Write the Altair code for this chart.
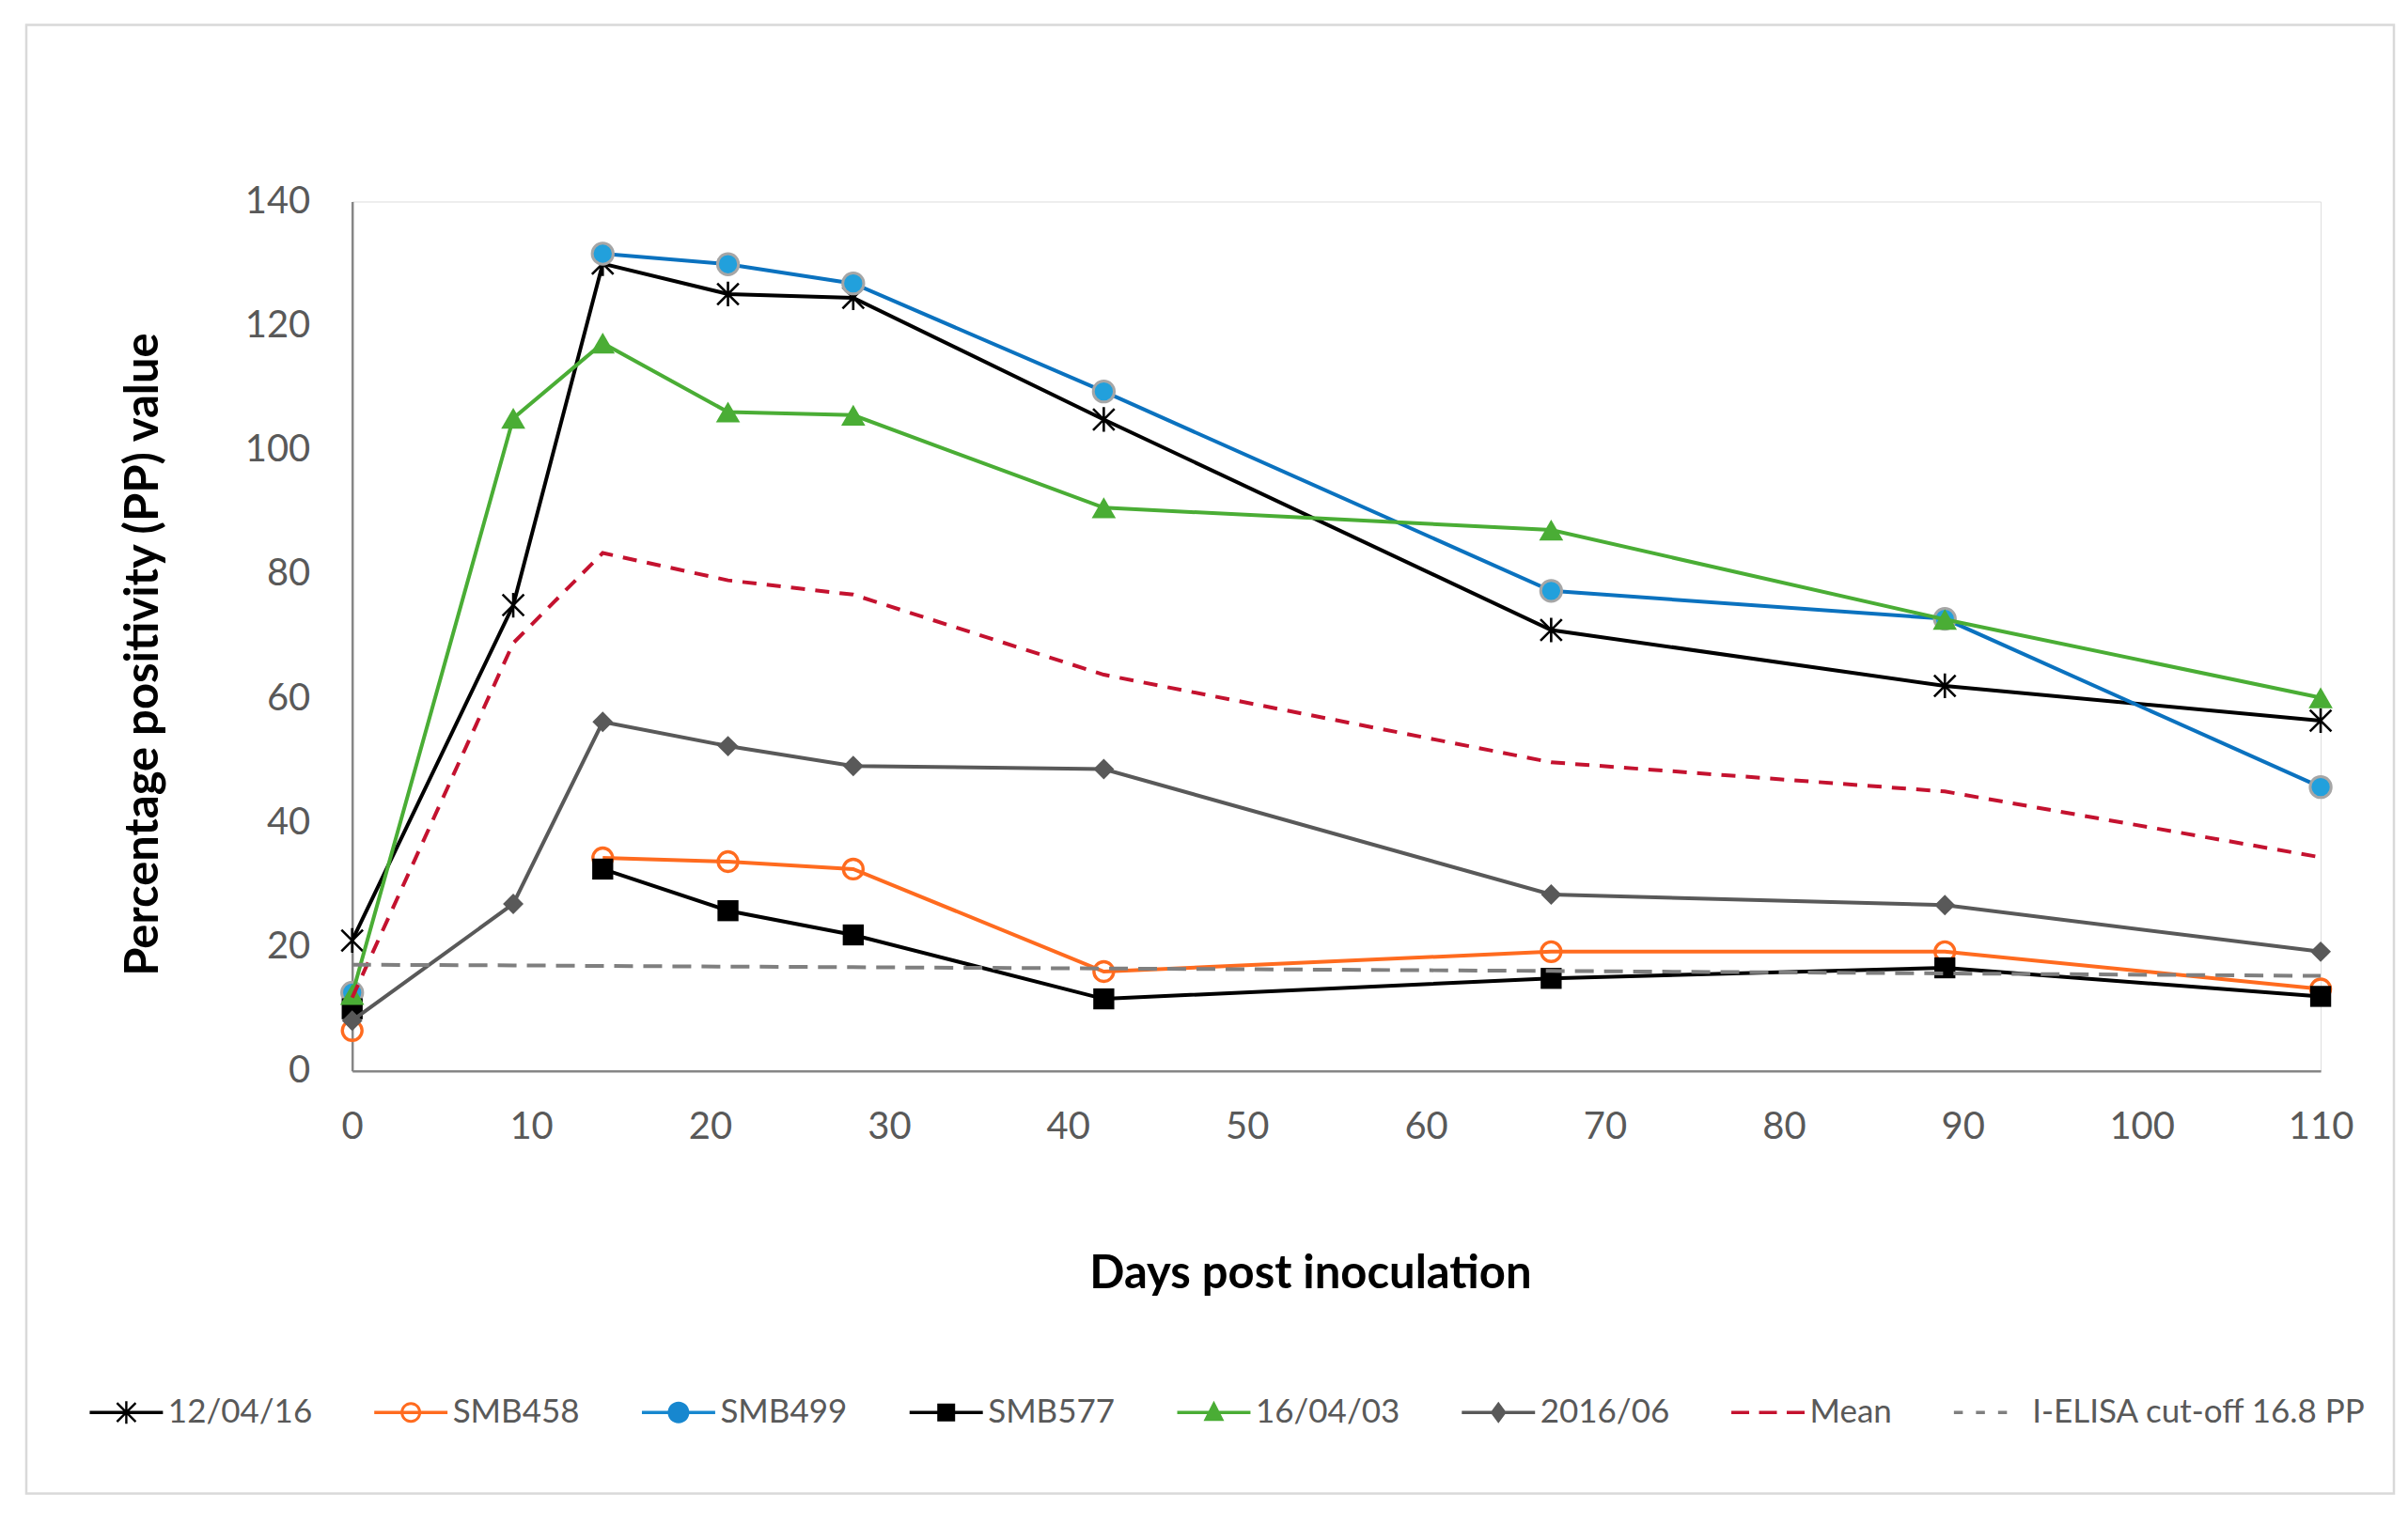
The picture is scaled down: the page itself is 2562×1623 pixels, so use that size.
import altair as alt
import pandas as pd

# ---------------- data ----------------
days = [0, 9, 14, 21, 28, 42, 67, 89, 110]

series_names = ["12/04/16", "SMB458", "SMB499", "SMB577", "16/04/03",
                "2016/06", "Mean", "I-ELISA cut-off 16.8 PP"]

v_120416 = [21.0, 75.0, 130.0, 125.1, 124.5, 104.9, 71.0, 62.0, 56.4]
v_smb458 = [6.5, None, 34.3, 33.7, 32.5, 16.0, 19.2, 19.2, 13.2]
v_smb499 = [12.6, None, 131.6, 129.9, 126.8, 109.4, 77.3, 72.8, 45.7]
v_smb577 = [10.0, None, 32.5, 25.8, 21.9, 11.6, 14.9, 16.6, 12.0]
v_160403 = [12.3, 105.1, 117.2, 106.1, 105.6, 90.7, 87.1, 72.7, 60.1]
v_201606 = [8.1, 26.9, 56.2, 52.3, 49.1, 48.6, 28.4, 26.7, 19.2]
v_mean = [11.8, 68.9, 83.4, 79.0, 76.7, 63.8, 49.7, 45.0, 34.4]
v_cutoff = [17.1, 17.0, 16.9, 16.8, 16.7, 16.5, 16.1, 15.7, 15.3]

x_ticks = [0, 10, 20, 30, 40, 50, 60, 70, 80, 90, 100, 110]
y_ticks = [0, 20, 40, 60, 80, 100, 120, 140]

all_values = [v_120416, v_smb458, v_smb499, v_smb577, v_160403,
              v_201606, v_mean, v_cutoff]

rows = []
for name, arr in zip(series_names, all_values):
    for d, v in zip(days, arr):
        rows.append({"series": name, "day": d, "pp": v})
df = pd.DataFrame(rows)

# ---------------- styles ----------------
FONT = "Lato"
ORANGE = "#ff6b1f"
BLUE_LINE = "#0b72bf"
BLUE_FILL = "#22a0dc"
GREEN = "#4aad35"
DGRAY = "#595959"
RED = "#c4122f"
CUTGRAY = "#7f7f7f"

line_styles = {
    "12/04/16": dict(color="#000000"),
    "SMB458": dict(color=ORANGE),
    "SMB499": dict(color=BLUE_LINE),
    "SMB577": dict(color="#000000"),
    "16/04/03": dict(color=GREEN),
    "2016/06": dict(color=DGRAY),
    "Mean": dict(color=RED, strokeDash=[15, 11]),
    "I-ELISA cut-off 16.8 PP": dict(color=CUTGRAY, strokeDash=[20, 11]),
}

ASTERISK = "M-1,-1L1,1M-1,1L1,-1M0,-1.15L0,1.15"

point_styles = {
    "12/04/16": dict(shape=ASTERISK, filled=False, stroke="#000000",
                     strokeWidth=2.6, size=520),
    "SMB458": dict(shape="circle", filled=False, stroke=ORANGE,
                   strokeWidth=3.4, size=440),
    "SMB499": dict(shape="circle", filled=True, fill=BLUE_FILL,
                   stroke="#a6a6a6", strokeWidth=3, size=500),
    "SMB577": dict(shape="square", filled=True, fill="#000000",
                   strokeWidth=0, size=500),
    "16/04/03": dict(shape="triangle-up", filled=True, fill=GREEN,
                     strokeWidth=0, size=660),
    "2016/06": dict(shape="diamond", filled=True, fill=DGRAY,
                    strokeWidth=0, size=480),
}


# ---------------- legend symbol paths (line + marker) ----------------
def poly(points):
    area = 0.0
    n = len(points)
    for i in range(n):
        x1, y1 = points[i]
        x2, y2 = points[(i + 1) % n]
        area += x1 * y2 - x2 * y1
    if area < 0:
        points = list(reversed(points))
    return "M" + "L".join(f"{x:.3f},{y:.3f}" for x, y in points) + "Z"


def seg(x1, y1, x2, y2, t):
    dx, dy = x2 - x1, y2 - y1
    ln = (dx * dx + dy * dy) ** 0.5
    nx, ny = -dy / ln * t, dx / ln * t
    return poly([(x1 + nx, y1 + ny), (x2 + nx, y2 + ny),
                 (x2 - nx, y2 - ny), (x1 - nx, y1 - ny)])


def circ(cx, r, cw=True):
    s = 1 if cw else 0
    return (f"M{cx + r:.3f},0A{r},{r} 0 1 {s} {cx - r:.3f},0"
            f"A{r},{r} 0 1 {s} {cx + r:.3f},0Z")


L0, L1, CX, T = -1.0, 6.8, 2.9, 0.18
base_line = seg(L0, 0, L1, 0, T)

legend_paths = [
    base_line + seg(CX - 1.0, -1.0, CX + 1.0, 1.0, 0.12)
    + seg(CX - 1.0, 1.0, CX + 1.0, -1.0, 0.12)
    + seg(CX, -1.2, CX, 1.2, 0.12),
    base_line + circ(CX, 1.1, True) + circ(CX, 0.8, False),
    base_line + circ(CX, 1.15, True),
    base_line + poly([(CX - 0.95, -0.95), (CX + 0.95, -0.95),
                      (CX + 0.95, 0.95), (CX - 0.95, 0.95)]),
    base_line + poly([(CX, -1.25), (CX + 1.1, 0.9), (CX - 1.1, 0.9)]),
    base_line + poly([(CX, -1.15), (CX + 0.85, 0), (CX, 1.15), (CX - 0.85, 0)]),
    seg(-1.0, 0, 0.9, 0, T) + seg(1.95, 0, 3.85, 0, T) + seg(4.9, 0, 6.8, 0, T),
    seg(-1.0, 0, -0.05, 0, T) + seg(1.35, 0, 2.3, 0, T) + seg(3.7, 0, 4.65, 0, T),
]
legend_colors = ["#000000", ORANGE, "#1787cf", "#000000", GREEN, DGRAY,
                 RED, CUTGRAY]

# ---------------- chart ----------------
x_enc = alt.X(
    "day:Q",
    scale=alt.Scale(domain=[0, 110], nice=False, zero=False),
    axis=alt.Axis(
        values=x_ticks, title="Days post inoculation", grid=False, ticks=False,
        domainColor="#868686", domainWidth=2.5, labelFont=FONT,
        labelFontSize=40, labelColor=DGRAY, labelPadding=40,
        labelFlush=False, labelOverlap=False,
        titleFont=FONT, titleFontSize=49, titleFontWeight="bold",
        titleColor="#000000", titleX=1020, titleY=216,
        titleBaseline="middle", titleAlign="center",
    ),
)
y_enc = alt.Y(
    "pp:Q",
    scale=alt.Scale(domain=[0, 140], nice=False),
    axis=alt.Axis(
        values=y_ticks, title="Percentage positivity (PP) value", grid=False,
        ticks=False, domainColor="#868686", domainWidth=2.5, labelFont=FONT,
        labelFontSize=40, labelColor=DGRAY, labelPadding=45,
        labelFlush=False, labelOverlap=False,
        titleFont=FONT, titleFontSize=49, titleFontWeight="bold",
        titleColor="#000000", titleX=-222, titleY=482, titleAngle=270,
        titleBaseline="middle", titleAlign="center",
    ),
)

base = alt.Chart(df)
layers = []

# frame around the whole chart area (decoration)
frame = alt.Chart(pd.DataFrame({"f": [0]})).mark_rect(
    fill="transparent", stroke="#d9d9d9", strokeWidth=2.5
).encode(x=alt.value(-347), x2=alt.value(2174),
         y=alt.value(-188), y2=alt.value(1376))
layers.append(frame)

for name in series_names:
    sub = base.transform_filter(alt.datum.series == name)
    st = line_styles[name]
    layers.append(
        sub.mark_line(strokeWidth=4, invalid="break-paths-filter-domains",
                      **st).encode(x=x_enc, y=y_enc)
    )
    if name in point_styles:
        layers.append(
            sub.mark_point(opacity=1, **point_styles[name]).encode(x=x_enc, y=y_enc)
        )

legend_def = alt.Legend(
    orient="none", legendX=-287, legendY=1272, direction="horizontal",
    title=None, labelFont=FONT, labelFontSize=35, labelColor=DGRAY,
    labelLimit=0, symbolSize=400, symbolStrokeWidth=0, labelOffset=56,
    columnPadding=58, padding=0, symbolOffset=0,
)
legend_layer = base.transform_filter("false").mark_point(
    filled=True, opacity=1
).encode(
    color=alt.Color("series:N",
                    scale=alt.Scale(domain=series_names, range=legend_colors),
                    legend=legend_def),
    shape=alt.Shape("series:N",
                    scale=alt.Scale(domain=series_names, range=legend_paths),
                    legend=legend_def),
)
layers.append(legend_layer)

chart = alt.layer(*layers).properties(
    width=2096, height=926,
    autosize=alt.AutoSizeParams(type="none"),
    padding={"left": 367, "top": 206, "right": 85, "bottom": 455},
).configure_view(stroke="transparent").configure(background="white")

chart.save("out.html", embed_options={"renderer": "svg", "actions": False})
